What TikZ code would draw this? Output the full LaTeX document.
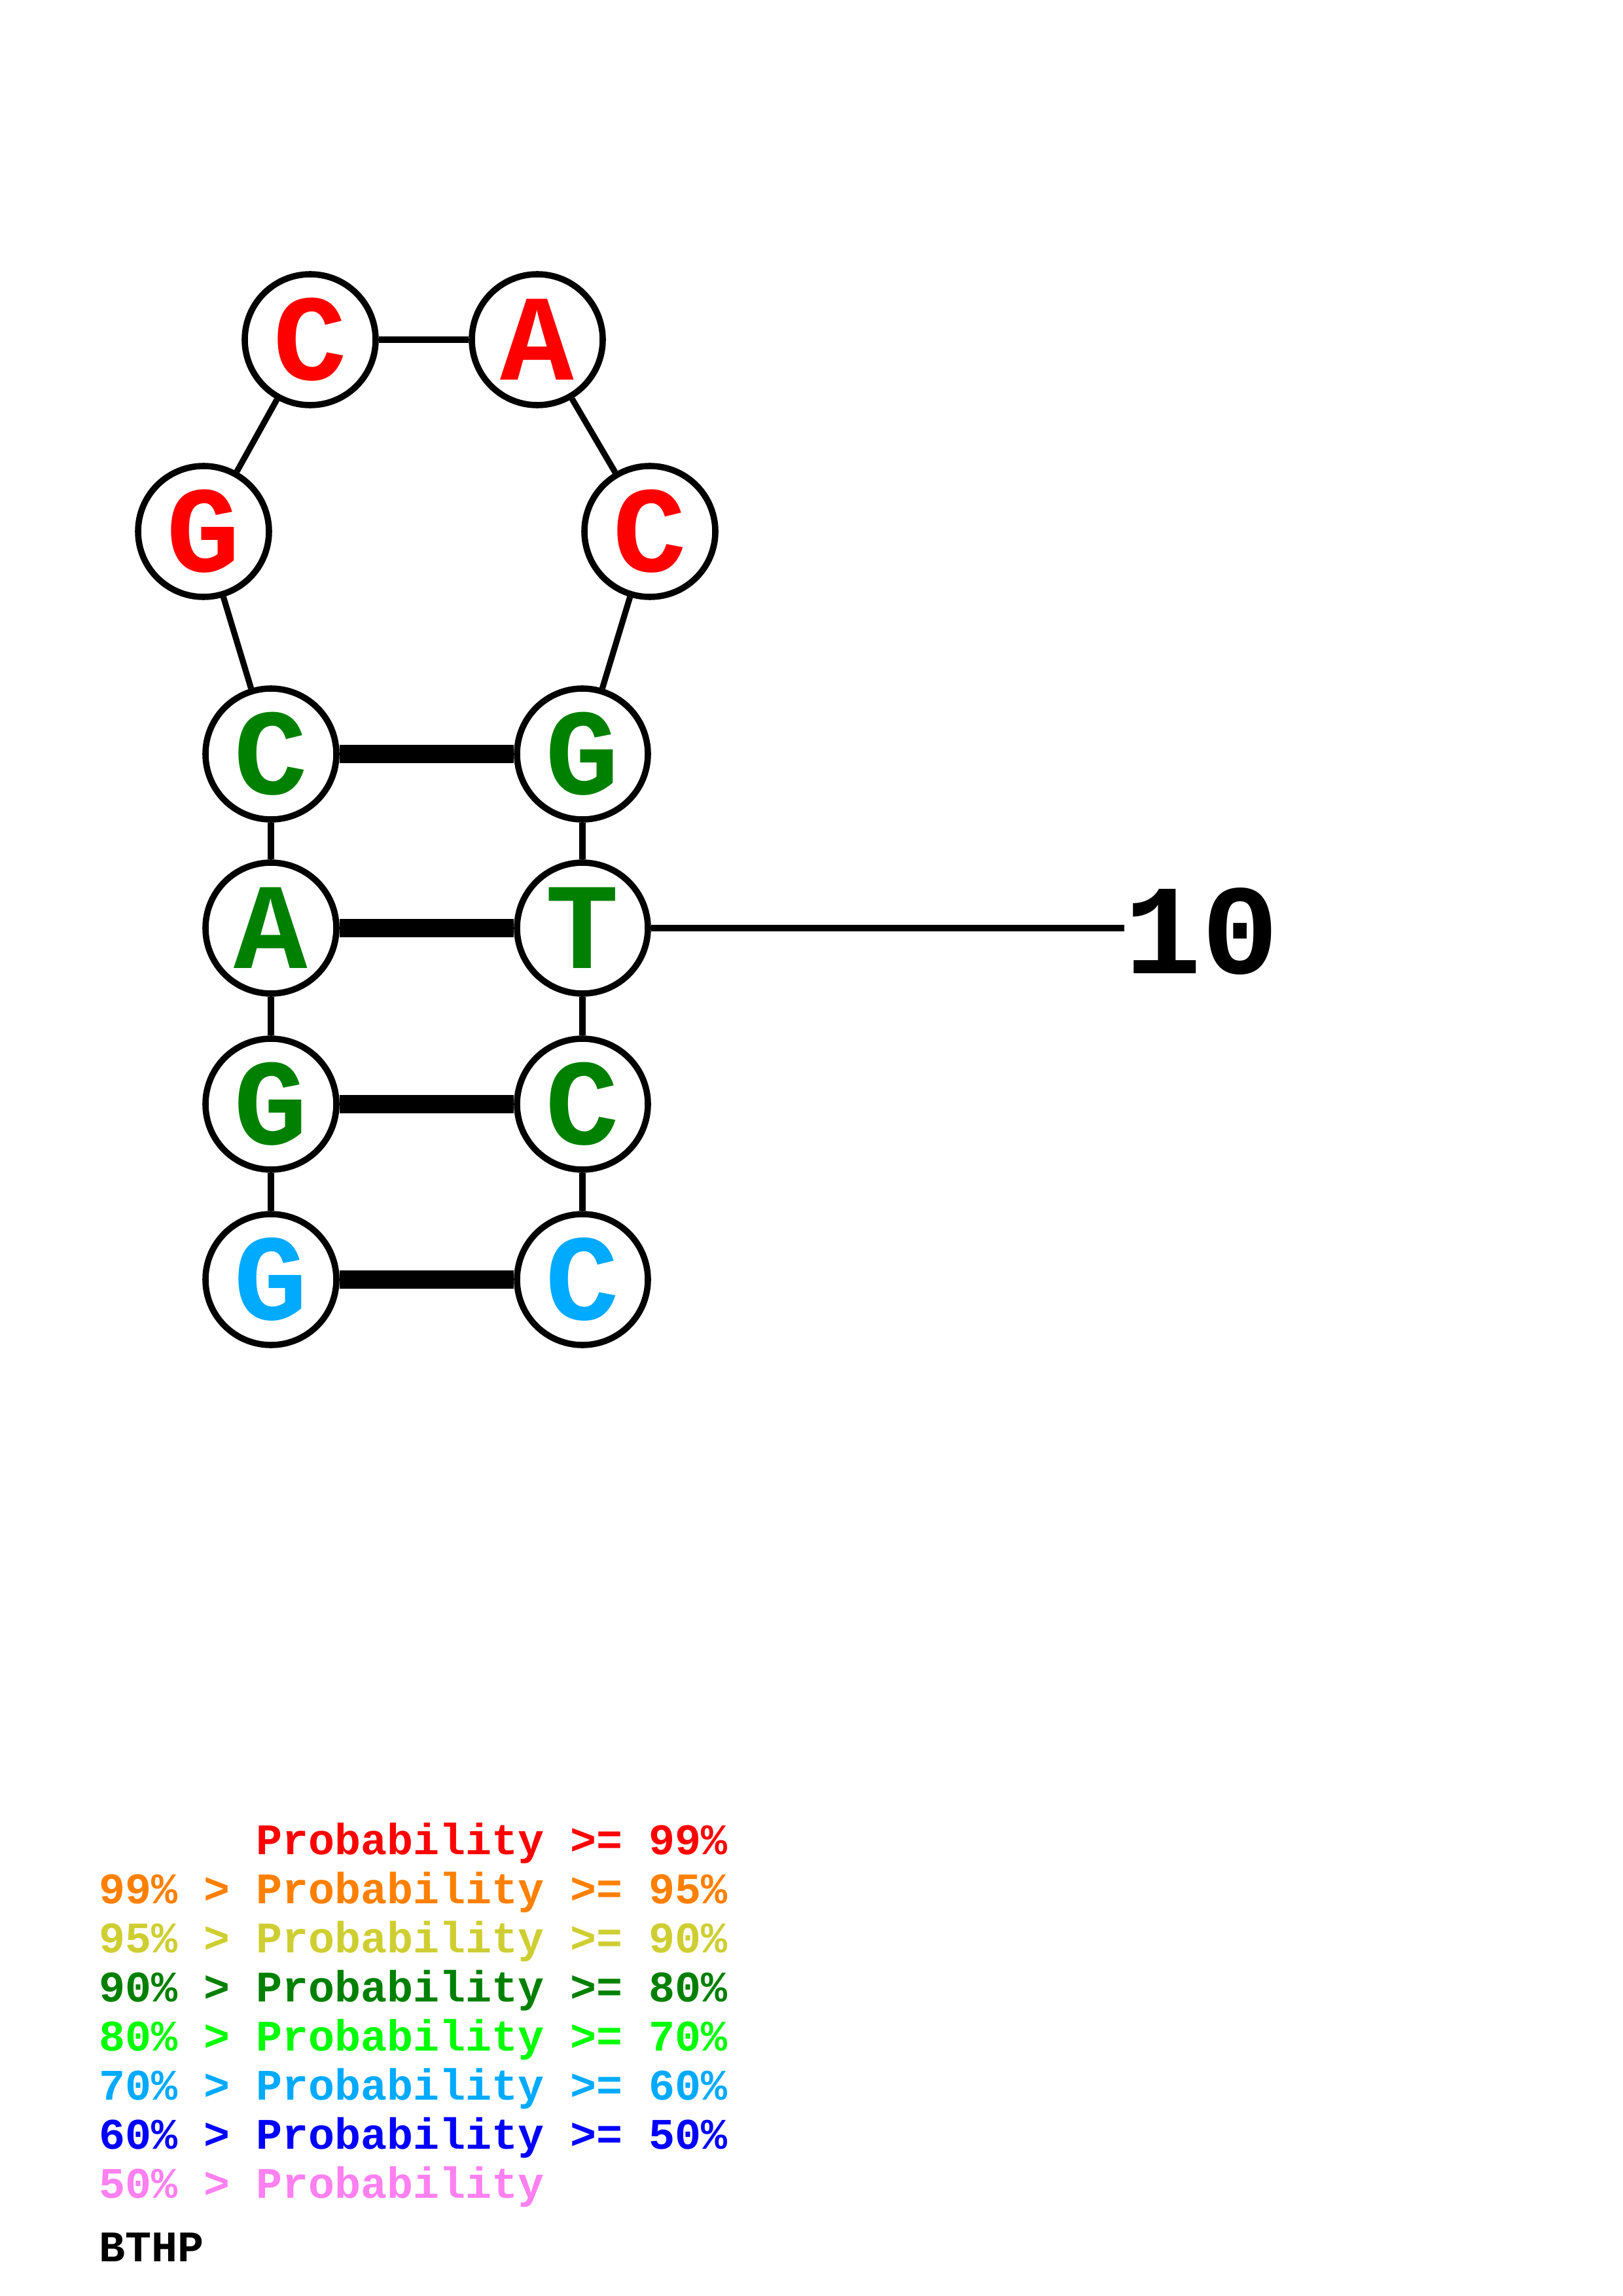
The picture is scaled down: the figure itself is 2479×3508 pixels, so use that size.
\documentclass[tikz,border=0pt]{standalone}
\usepackage{fontspec}
\newfontfamily\monofam{Liberation Mono}
\usetikzlibrary{positioning}
\definecolor{p99}{RGB}{255,0,0}
\definecolor{p95}{RGB}{255,128,0}
\definecolor{p90}{RGB}{206,206,50}
\definecolor{p80}{RGB}{0,128,0}
\definecolor{p70}{RGB}{0,255,0}
\definecolor{p60}{RGB}{0,170,255}
\definecolor{p50}{RGB}{0,0,255}
\definecolor{plow}{RGB}{255,128,240}

\begin{document}
\begin{tikzpicture}[x=0.24pt, y=-0.24pt,
  nt/.style={circle, draw, line width=2.3pt, fill=white, minimum size=48pt, inner sep=0pt,
    font=\monofam\bfseries\fontsize{45}{45}\selectfont},
  bb/.style={line width=2.2pt},
  bp/.style={line width=6.5pt},
  leg/.style={anchor=base west, inner sep=0pt, font=\monofam\bfseries\fontsize{16}{16}\selectfont}]
\useasboundingbox (0,0) rectangle (2479,3508);
% stem, left strand
\node[nt, text=p60] (n1) at (414,1955) {G};
\node[nt, text=p80] (n2) at (414,1687) {G};
\node[nt, text=p80] (n3) at (414,1418) {A};
\node[nt, text=p80] (n4) at (414,1152) {C};
% hairpin loop
\node[nt, text=p99] (n5) at (311,812) {G};
\node[nt, text=p99] (n6) at (474,519) {C};
\node[nt, text=p99] (n7) at (821,519) {A};
\node[nt, text=p99] (n8) at (993,812) {C};
% stem, right strand
\node[nt, text=p80] (n9) at (890,1152) {G};
\node[nt, text=p80] (n10) at (890,1418) {T};
\node[nt, text=p80] (n11) at (890,1687) {C};
\node[nt, text=p60] (n12) at (890,1955) {C};
\foreach \a/\b in {1/2,2/3,3/4,4/5,5/6,6/7,7/8,8/9,9/10,10/11,11/12}
  \draw[bb] (n\a) -- (n\b);
\foreach \a/\b in {1/12,2/11,3/10,4/9}
  \draw[bp] (n\a) -- (n\b);
% numbering
\node[anchor=base west, inner sep=0pt, font=\monofam\bfseries\fontsize{47}{47}\selectfont] (num10) at (1718,1487) {10};
\draw[bb] (n10.east) -- (n10.east -| num10.west);
% legend
\foreach \t/\c [count=\i] in {{\hphantom{99\%~>~}Probability~>=~99\%}/p99,
    {99\%~>~Probability~>=~95\%}/p95, {95\%~>~Probability~>=~90\%}/p90,
    {90\%~>~Probability~>=~80\%}/p80, {80\%~>~Probability~>=~70\%}/p70,
    {70\%~>~Probability~>=~60\%}/p60, {60\%~>~Probability~>=~50\%}/p50,
    {50\%~>~Probability}/plow}
  \node[leg, text=\c] (leg\i) at (151,{2758+75*\i}) {\t};
\node[leg] (tag) at (151,3455) {BTHP};
\end{tikzpicture}
\end{document}
